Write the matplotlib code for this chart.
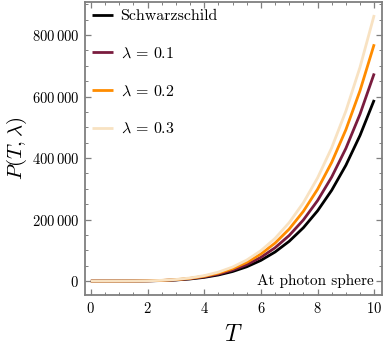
import numpy as np
import matplotlib
matplotlib.use("Agg")
import matplotlib.pyplot as plt
from matplotlib.ticker import MultipleLocator

plt.rcParams['mathtext.fontset'] = 'cm'
plt.rcParams['font.family'] = ['cmr10', 'DejaVu Serif']
plt.rcParams['axes.formatter.use_mathtext'] = True

# temperature grid
T = [0, 0.5, 1, 1.5, 2, 2.5, 3, 3.5, 4, 4.5, 5, 5.5, 6, 6.5, 7, 7.5, 8, 8.5, 9, 9.5, 10]

# pressure
p_schw = [0, 2, 33, 186, 630, 1626, 3528, 6797, 11990, 19770, 30960, 46420,
          67200, 94420, 129300, 173400, 228200, 295200, 376400, 473600, 589000]
p_l01 = [0, 2, 38, 213, 722, 1863, 4043, 7790, 13740, 22660, 35480, 53200,
         77020, 108200, 148200, 198700, 261500, 338300, 431300, 542800, 675000]
p_l02 = [0, 2, 43, 243, 824, 2125, 4612, 8886, 15680, 25850, 40470, 60680,
         87860, 123400, 169100, 226700, 298300, 385900, 492000, 619200, 770000]
p_l03 = [0, 3, 49, 272, 926, 2387, 5181, 9982, 17610, 29040, 45460, 68170,
         98700, 138700, 190000, 254700, 335100, 433500, 552700, 695500, 865000]

series = [p_schw, p_l01, p_l02, p_l03]
labels = ['Schwarzschild', r'$\lambda\,=\,0.1$', r'$\lambda\,=\,0.2$', r'$\lambda\,=\,0.3$']
colors = ['#000000', '#7a1c3e', '#ff8c00', '#f8e2c2']

yticks = [0, 200000, 400000, 600000, 800000]
yticklabels = [r'$0$', r'$200\,000$', r'$400\,000$', r'$600\,000$', r'$800\,000$']
xticks = [0, 2, 4, 6, 8, 10]

fig = plt.figure(figsize=(3.83, 3.5), dpi=100)
ax = fig.add_axes([0.221, 0.157, 0.776, 0.837])

for s, lab, c in zip(series, labels, colors):
    ax.plot(T, s, color=c, lw=2.0, label=lab, solid_capstyle='butt')

ax.set_xlim(-0.22, 10.27)
ax.set_ylim(-45500, 907000)

ax.set_xticks(xticks)
ax.set_xticklabels([rf'${v}$' for v in xticks])
ax.set_yticks(yticks)
ax.set_yticklabels(yticklabels)
ax.xaxis.set_minor_locator(MultipleLocator(0.5))
ax.yaxis.set_minor_locator(MultipleLocator(50000))

frame_c = '#7f7f7f'
for sp in ax.spines.values():
    sp.set_color(frame_c)
    sp.set_linewidth(1.3)
ax.tick_params(which='both', direction='in', top=True, right=True, color=frame_c,
               labelsize=10.5, pad=4)
ax.tick_params(which='major', length=4, width=0.9)
ax.tick_params(which='minor', length=2.2, width=0.7)

ax.set_xlabel(r'$T$', fontsize=17, labelpad=6)
ax.set_ylabel(r'$P(T,\lambda)$', fontsize=15, labelpad=2)

leg = ax.legend(loc='upper left', frameon=False, fontsize=11.5, handlelength=1.3,
                handletextpad=0.5, labelspacing=1.45, borderaxespad=0.05,
                bbox_to_anchor=(0.0, 1.0))

ax.text(9.97, 0, 'At photon sphere', ha='right', va='center', fontsize=11)

plt.savefig('out.png', dpi=100)
plt.close()
